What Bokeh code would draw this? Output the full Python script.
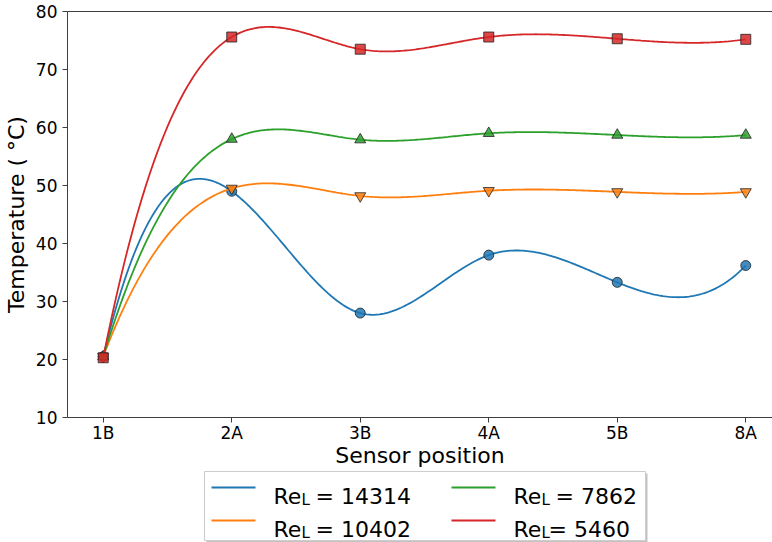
import numpy as np
from bokeh.plotting import figure
from bokeh.layouts import column
from bokeh.models import Range1d, FixedTicker, LinearAxis
from bokeh.core.properties import value
from bokeh.embed import file_html
from bokeh.resources import INLINE

# ---------------- data ----------------
positions = ["1B", "2A", "3B", "4A", "5B", "8A"]
re_14314 = [20.5, 49.0, 28.0, 38.0, 33.3, 36.2]
re_10402 = [20.5, 49.5, 48.2, 49.1, 48.9, 48.9]
re_7862 = [20.5, 58.0, 57.9, 59.0, 58.7, 58.7]
re_5460 = [20.3, 75.6, 73.5, 75.6, 75.3, 75.2]
y_ticks = [10, 20, 30, 40, 50, 60, 70, 80]

series = [
    ("14314", re_14314, "#1f77b4", "circle", 10),
    ("10402", re_10402, "#ff7f0e", "inverted_triangle", 11),
    ("7862", re_7862, "#2ca02c", "triangle", 11),
    ("5460", re_5460, "#d62728", "square", 10),
]

FONT = "DejaVu Sans"


def spline_curve(xs, ys, n_per=60):
    """Not-a-knot cubic spline through the points (uniform spacing)."""
    x = np.asarray(xs, float)
    y = np.asarray(ys, float)
    n = len(x)
    A = np.zeros((n, n))
    b = np.zeros(n)
    A[0, 0:3] = [1, -2, 1]
    A[-1, -3:] = [1, -2, 1]
    for i in range(1, n - 1):
        A[i, i - 1:i + 2] = [1, 4, 1]
        b[i] = 6 * (y[i + 1] - 2 * y[i] + y[i - 1])
    M = np.linalg.solve(A, b)
    px, py = [], []
    for i in range(n - 1):
        s = np.linspace(0, 1, n_per, endpoint=(i == n - 2))
        S = (M[i] * (1 - s) ** 3 / 6 + M[i + 1] * s ** 3 / 6
             + (y[i] - M[i] / 6) * (1 - s) + (y[i + 1] - M[i + 1] / 6) * s)
        px.extend(x[i] + s)
        py.extend(S)
    return px, py


xs = list(range(len(positions)))

# ---------------- main plot ----------------
H1 = 470
p = figure(width=772, height=H1, output_backend="svg", toolbar_location=None,
           x_range=Range1d(-0.278, 5.208), y_range=Range1d(10, 80),
           min_border_left=67, min_border_right=0, min_border_top=11,
           min_border_bottom=H1 - 417)
p.outline_line_color = None
p.grid.visible = False
p.background_fill_color = "white"
p.border_fill_color = "white"

for name, ys, col, marker, size in series:
    cx, cy = spline_curve(xs, ys)
    p.line(cx, cy, line_color=col, line_width=1.8)
    p.scatter(xs, ys, marker=marker, size=size, fill_color=col, fill_alpha=0.85,
              line_color="#222222", line_alpha=0.8, line_width=1)

axis_col = "#3f3f3f"
xa = p.xaxis[0]
xa.ticker = FixedTicker(ticks=xs)
xa.major_label_overrides = {i: lab for i, lab in enumerate(positions)}
xa.minor_tick_line_color = None
xa.major_tick_out = 5
xa.major_tick_in = 0
xa.major_label_standoff = 0
xa.axis_line_color = axis_col
xa.major_tick_line_color = axis_col
xa.major_label_text_font = FONT
xa.major_label_text_font_size = "17px"
xa.major_label_text_color = "black"
xa.axis_label = "Sensor position"
xa.axis_label_text_font = FONT
xa.axis_label_text_font_size = "22px"
xa.axis_label_text_font_style = "normal"
xa.axis_label_text_color = "black"
xa.axis_label_standoff = -3

ya = p.yaxis[0]
ya.ticker = FixedTicker(ticks=y_ticks)
ya.minor_tick_line_color = None
ya.major_tick_out = 5
ya.major_tick_in = 0
ya.major_label_standoff = 5
ya.axis_line_color = axis_col
ya.major_tick_line_color = axis_col
ya.major_label_text_font = FONT
ya.major_label_text_font_size = "17px"
ya.major_label_text_color = "black"
ya.axis_label = "Temperature ( °C)"
ya.axis_label_text_font = FONT
ya.axis_label_text_font_size = "22px"
ya.axis_label_text_font_style = "normal"
ya.axis_label_text_color = "black"
ya.axis_label_standoff = 4

top = LinearAxis(ticker=FixedTicker(ticks=[]), axis_line_color=axis_col,
                 major_tick_out=0, major_tick_in=0, minor_tick_out=0, minor_tick_in=0)
p.add_layout(top, "above")

# ---------------- legend panel ----------------
H2 = 542 - H1
q = figure(width=772, height=H2, output_backend="svg", toolbar_location=None,
           x_range=Range1d(67, 772), y_range=Range1d(0, H2),
           min_border_left=67, min_border_right=0, min_border_top=0,
           min_border_bottom=0, x_axis_location=None, y_axis_location=None)
q.outline_line_color = None
q.grid.visible = False


def Y(page_y):
    return 542 - page_y


# legend frame with shadow
q.quad(left=[206], right=[647], top=[Y(473)], bottom=[Y(542)],
       fill_color="#888888", fill_alpha=0.5, line_color=None)
q.quad(left=[204], right=[645], top=[Y(471)], bottom=[Y(540)],
       fill_color="white", line_color="#cccccc", line_width=1)

legend_layout = [
    # (series index, line x0, "Re" x, "L" x, rest x, baseline y, line y, rest text)
    (0, 211, 273, 301, 315, 496, 487, "= 14314"),
    (1, 211, 273, 301, 315, 529, 520, "= 10402"),
    (2, 451, 513, 541, 555, 496, 487, "= 7862"),
    (3, 451, 513, 541, 548, 529, 520, "= 5460"),
]
for idx, lx, tx, Lx, rx, by, ly, rest in legend_layout:
    col = series[idx][2]
    q.line([lx, lx + 44], [Y(ly), Y(ly)], line_color=col, line_width=2)
    q.text(x=[tx], y=[Y(by)], text=["Re"], text_font=value(FONT),
           text_font_size="22px", text_baseline="alphabetic", text_align="left",
           text_color="black")
    q.text(x=[Lx], y=[Y(by + 3)], text=["L"], text_font=value(FONT),
           text_font_size="15px", text_baseline="alphabetic", text_align="left",
           text_color="black")
    q.text(x=[rx], y=[Y(by)], text=[rest], text_font=value(FONT),
           text_font_size="22px", text_baseline="alphabetic", text_align="left",
           text_color="black")

layout = column(p, q, spacing=0)
open("out.html", "w").write(file_html(layout, INLINE))
